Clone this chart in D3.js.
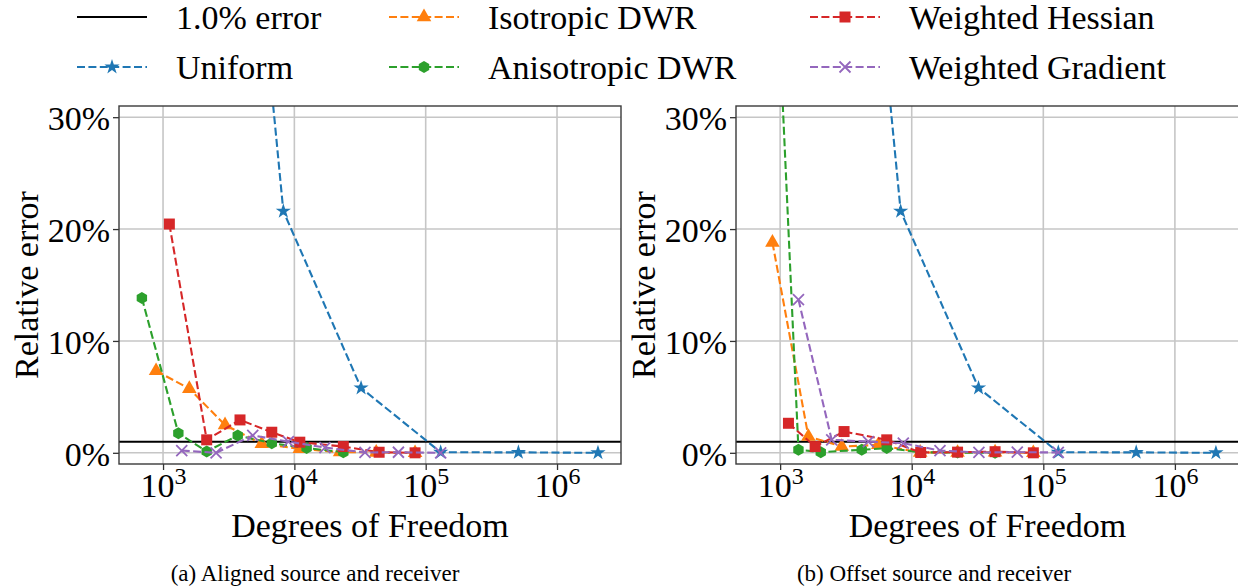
<!DOCTYPE html>
<html>
<head>
<meta charset="utf-8">
<script src="https://cdn.jsdelivr.net/npm/d3@7"></script>
<style>
  body { margin: 0; background: #fff; }
</style>
</head>
<body>
<svg id="fig" width="1238" height="588"></svg>
<script>
// ---- data ----
const xTicks = [1e3, 1e4, 1e5, 1e6];
const yTicks = [0, 10, 20, 30];
const xRange = [462, 3.07e6];
const yRange = [-1, 31];
const errorLevel = 1.0;

// uniform refinement is the same run in both panels
const uniformDof = [2060, 8240, 32200, 130000, 508000, 2050000];
const uniformErr = [95, 21.6, 5.8, 0.05, 0.04, 0.0];

// (a) aligned
const isoDofA = [885, 1585, 2965, 5650, 11000, 22300, 42000, 83000];
const isoErrA = [7.33, 5.73, 2.49, 0.8, 0.35, 0.06, 0.03, 0.0];
const anisoDofA = [690, 1308, 2150, 3705, 6730, 12400, 23600];
const anisoErrA = [13.83, 1.75, 0.12, 1.54, 0.86, 0.42, 0.06];
const hessDofA = [1117, 2150, 3855, 6730, 11000, 23600, 44200, 83000];
const hessErrA = [20.45, 1.16, 2.94, 1.84, 0.95, 0.56, 0.05, 0.0];
const gradDofA = [1388, 2535, 4820, 9000, 17100, 34500, 62000, 130000];
const gradErrA = [0.2, 0.0, 1.55, 1.0, 0.47, 0.03, 0.05, 0.0];

// (b) offset
const isoDofB = [874, 1640, 2940, 5570, 11600, 22300, 43000, 84000];
const isoErrB = [18.8, 1.45, 0.56, 0.71, 0.03, 0.02, 0.05, 0.0];
const anisoDofB = [690, 1378, 2036, 4170, 6460, 11700, 22300, 43000];
const anisoErrB = [78, 0.27, 0.06, 0.27, 0.42, 0.05, 0.02, 0.0];
const hessDofB = [1157, 1845, 3060, 6460, 11700, 22300, 43000, 84000];
const hessErrB = [2.64, 0.56, 1.9, 1.16, 0.03, 0.06, 0.1, 0.0];
const gradDofB = [1378, 2465, 4680, 8630, 16400, 32400, 63400, 130000];
const gradErrB = [13.7, 1.16, 1.0, 0.86, 0.2, 0.03, 0.06, 0.03];

const captions = ["(a) Aligned source and receiver", "(b) Offset source and receiver"];

// ---- styles ----
const serif = '"Liberation Serif", "Times New Roman", Times, "DejaVu Serif", serif';
const styles = {
  uniform: { name: "Uniform", color: "#1f77b4", marker: "star" },
  iso:     { name: "Isotropic DWR", color: "#ff7f0e", marker: "triangle" },
  aniso:   { name: "Anisotropic DWR", color: "#2ca02c", marker: "hexagon" },
  hess:    { name: "Weighted Hessian", color: "#d62728", marker: "square" },
  grad:    { name: "Weighted Gradient", color: "#9467bd", marker: "x" }
};

const zip = (xs, ys) => xs.map((d, i) => ({ dof: d, err: ys[i] }));

const panels = [
  { left: 119, right: 621, caption: captions[0], series: [
    ["uniform", zip(uniformDof, uniformErr)],
    ["iso", zip(isoDofA, isoErrA)],
    ["aniso", zip(anisoDofA, anisoErrA)],
    ["hess", zip(hessDofA, hessErrA)],
    ["grad", zip(gradDofA, gradErrA)]
  ]},
  { left: 736, right: 1239, caption: captions[1], series: [
    ["uniform", zip(uniformDof, uniformErr)],
    ["iso", zip(isoDofB, isoErrB)],
    ["aniso", zip(anisoDofB, anisoErrB)],
    ["hess", zip(hessDofB, hessErrB)],
    ["grad", zip(gradDofB, gradErrB)]
  ]}
];

const plotTop = 106, plotBottom = 464;
const fontSize = 34;
const dash = "8,3.4";
const svg = d3.select("#fig");

const hexPath = (r) => d3.range(6).map(k => {
  const a = Math.PI / 2 + k * Math.PI / 3;
  return [r * Math.cos(a), -r * Math.sin(a)];
});

function drawMarker(sel, kind, color) {
  if (kind === "star") {
    sel.append("path").attr("d", d3.symbol(d3.symbolStar, 72)()).attr("fill", color);
  } else if (kind === "triangle") {
    sel.append("path").attr("d", d3.symbol(d3.symbolTriangle, 92)()).attr("fill", color);
  } else if (kind === "square") {
    sel.append("path").attr("d", d3.symbol(d3.symbolSquare, 121)()).attr("fill", color);
  } else if (kind === "hexagon") {
    sel.append("path").attr("d", "M" + hexPath(6).join("L") + "Z").attr("fill", color);
  } else if (kind === "x") {
    sel.append("path").attr("d", "M-5.5,-5.5L5.5,5.5M5.5,-5.5L-5.5,5.5")
      .attr("stroke", color).attr("stroke-width", 1.8).attr("fill", "none");
  }
}

function label(sel, size) {
  return sel.append("text")
    .attr("font-family", serif)
    .style("font-family", serif)
    .attr("font-size", size)
    .attr("fill", "#000");
}

const y = d3.scaleLinear().domain(yRange).range([plotBottom, plotTop]);

panels.forEach((p, i) => {
  const x = d3.scaleLog().domain(xRange).range([p.left, p.right]);
  const g = svg.append("g");

  svg.append("clipPath").attr("id", "clip" + i)
    .append("rect")
    .attr("x", p.left).attr("y", plotTop)
    .attr("width", p.right - p.left).attr("height", plotBottom - plotTop);

  // grid
  g.selectAll(".xgrid").data(xTicks).join("line")
    .attr("x1", d => x(d)).attr("x2", d => x(d))
    .attr("y1", plotTop).attr("y2", plotBottom)
    .attr("stroke", "#c6c6c6").attr("stroke-width", 1.6);
  g.selectAll(".ygrid").data(yTicks).join("line")
    .attr("x1", p.left).attr("x2", p.right)
    .attr("y1", d => y(d)).attr("y2", d => y(d))
    .attr("stroke", "#c6c6c6").attr("stroke-width", 1.6);

  const plot = g.append("g").attr("clip-path", `url(#clip${i})`);

  // 1% error reference
  plot.append("line")
    .attr("x1", p.left).attr("x2", p.right)
    .attr("y1", y(errorLevel)).attr("y2", y(errorLevel))
    .attr("stroke", "#000").attr("stroke-width", 2);

  const line = d3.line().x(d => x(d.dof)).y(d => y(d.err));

  p.series.forEach(([key, data]) => {
    const s = styles[key];
    plot.append("path").datum(data)
      .attr("d", line)
      .attr("fill", "none")
      .attr("stroke", s.color)
      .attr("stroke-width", 2.1)
      .attr("stroke-dasharray", dash);
    plot.selectAll(null).data(data).join("g")
      .attr("transform", d => `translate(${x(d.dof)},${y(d.err)})`)
      .each(function () { drawMarker(d3.select(this), s.marker, s.color); });
  });

  // axes
  const xAxis = g.append("g")
    .attr("transform", `translate(0,${plotBottom})`)
    .call(d3.axisBottom(x).tickValues(xTicks).tickSize(6).tickFormat(""));
  xAxis.select(".domain").remove();
  xAxis.selectAll(".tick line").attr("stroke", "#333").attr("stroke-width", 1.3);
  xAxis.selectAll(".tick").each(function (d) {
    const t = label(d3.select(this), fontSize).attr("y", 33).attr("text-anchor", "middle");
    t.append("tspan").text("10");
    t.append("tspan").attr("dy", -13).attr("font-size", 24)
      .text(Math.round(Math.log10(d)));
  });

  const yAxis = g.append("g")
    .attr("transform", `translate(${p.left},0)`)
    .call(d3.axisLeft(y).tickValues(yTicks).tickSize(6).tickFormat(""));
  yAxis.select(".domain").remove();
  yAxis.selectAll(".tick line").attr("stroke", "#333").attr("stroke-width", 1.3);
  yAxis.selectAll(".tick").each(function (d) {
    label(d3.select(this), fontSize)
      .attr("x", -9).attr("dy", "0.36em").attr("text-anchor", "end")
      .text(d + "%");
  });

  // frame
  g.append("rect")
    .attr("x", p.left).attr("y", plotTop)
    .attr("width", p.right - p.left).attr("height", plotBottom - plotTop)
    .attr("fill", "none").attr("stroke", "#3a3a3a").attr("stroke-width", 1.4);

  // labels
  label(g, fontSize)
    .attr("x", (p.left + p.right) / 2).attr("y", 537)
    .attr("text-anchor", "middle")
    .text("Degrees of Freedom");
  label(g, fontSize)
    .attr("transform", `translate(${p.left - 93},${(plotTop + plotBottom) / 2}) rotate(-90)`)
    .attr("text-anchor", "middle").attr("dy", "0.35em")
    .text("Relative error");
  label(g, 23)
    .attr("x", i === 0 ? 315 : 934).attr("y", 581)
    .attr("text-anchor", "middle")
    .text(p.caption);
});

// legend (3 columns, filled column by column)
const legendItems = [
  { name: "1.0% error", color: "#000", marker: null },
  styles.uniform, styles.iso, styles.aniso, styles.hess, styles.grad
];
const colX = [77, 389, 810];
const rowY = [17, 67];
const legend = svg.append("g");
legendItems.forEach((it, k) => {
  const cx = colX[Math.floor(k / 2)], cy = rowY[k % 2];
  const item = legend.append("g").attr("transform", `translate(${cx},${cy})`);
  item.append("line").attr("x1", 0).attr("x2", 70).attr("y1", 0).attr("y2", 0)
    .attr("stroke", it.color).attr("stroke-width", 2)
    .attr("stroke-dasharray", it.marker ? dash : null);
  if (it.marker) {
    drawMarker(item.append("g").attr("transform", "translate(35,0)"), it.marker, it.color);
  }
  label(item, fontSize).attr("x", 99).attr("dy", "0.35em").text(it.name);
});
</script>
</body>
</html>
